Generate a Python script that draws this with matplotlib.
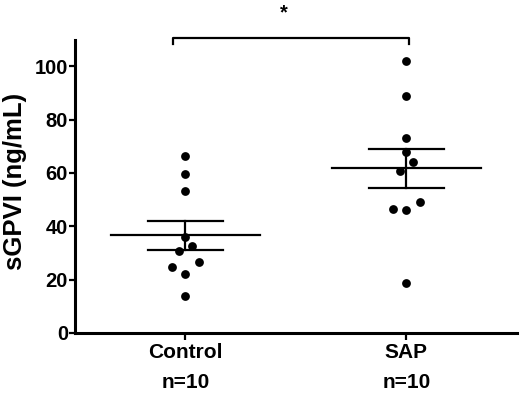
import numpy as np
import matplotlib
matplotlib.use("Agg")
import matplotlib.pyplot as plt

categories = ["Control", "SAP"]
n_labels = ["n=10", "n=10"]
control_values = [66.4, 59.6, 53.4, 36.1, 32.6, 30.7, 26.5, 24.8, 22.0, 13.7]
control_offsets = [0, 0, 0, 0, 0.03, -0.03, 0.06, -0.06, 0, 0]
sap_values = [101.9, 88.8, 73.1, 67.9, 63.9, 60.8, 49.1, 46.3, 46.1, 18.6]
sap_offsets = [0, 0, 0, 0, 0.03, -0.03, 0.06, -0.06, 0, 0]
yticks = [0, 20, 40, 60, 80, 100]
ylabel = "sGPVI (ng/mL)"
sig_label = "*"

plt.rcParams['font.family'] = ['Liberation Sans', 'DejaVu Sans']
plt.rcParams['font.weight'] = 'bold'

fig = plt.figure(figsize=(5.2, 3.95), dpi=100)
ax = fig.add_axes([0.144, 0.157, 0.850, 0.743])

groups = [(control_values, control_offsets), (sap_values, sap_offsets)]
for i, (vals, offs) in enumerate(groups):
    xc = i + 1
    v = np.array(vals)
    xs = xc + np.array(offs)
    ax.scatter(xs, v, s=40, color='black', zorder=3, linewidths=0)
    m = v.mean()
    sem = v.std(ddof=1) / np.sqrt(len(v))
    ax.plot([xc - 0.337, xc + 0.337], [m, m], color='black', lw=1.6, zorder=2)
    ax.plot([xc, xc], [m - sem, m + sem], color='black', lw=1.6, zorder=2)
    for yy in (m - sem, m + sem):
        ax.plot([xc - 0.17, xc + 0.17], [yy, yy], color='black', lw=1.6, zorder=2)

ax.set_xlim(0.5, 2.5)
ax.set_ylim(0, 110)
ax.set_yticks(yticks)
ax.set_xticks([1, 2])
ax.set_xticklabels([f"{c}\n{n}" for c, n in zip(categories, n_labels)],
                   fontsize=15, fontweight='bold', linespacing=1.75)
ax.tick_params(axis='y', labelsize=14.5, width=1.6, length=4.5, direction='out', pad=0.5)
ax.tick_params(axis='x', width=1.6, length=5, direction='out', pad=2)
for lab in ax.get_yticklabels():
    lab.set_fontweight('bold')
ax.set_ylabel(ylabel, fontsize=18.5, fontweight='bold')
ax.yaxis.set_label_coords(-0.109, 0.517)

for s in ['top', 'right']:
    ax.spines[s].set_visible(False)
for s in ['left', 'bottom']:
    ax.spines[s].set_linewidth(2.2)

# significance bracket
x_left, x_right = 0.945, 2.01
y_br, y_tick = 110.5, 108.3
ax.plot([x_left, x_left, x_right, x_right], [y_tick, y_br, y_br, y_tick],
        color='black', lw=1.6, clip_on=False)
ax.text(1.445, 120.0, sig_label, ha='center', va='center', fontsize=14.5, fontweight='bold')

fig.savefig("out.png", dpi=100)
